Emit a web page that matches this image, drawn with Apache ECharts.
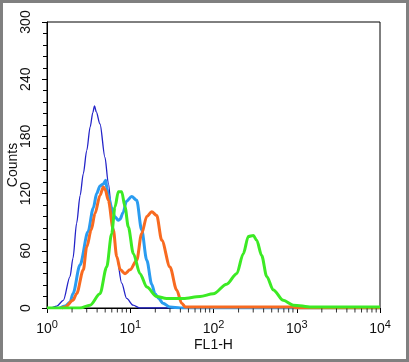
<!DOCTYPE html>
<html lang="en">
<head>
  <meta charset="UTF-8">
  <title>FL1-H histogram</title>
  <script src="https://cdn.jsdelivr.net/npm/echarts@6/dist/echarts.min.js"></script>
  <style>
    html, body { margin: 0; padding: 0; background: #fff; }
    #chart { width: 409px; height: 362px; }
  </style>
</head>
<body>
  <div id="chart"></div>
<script>
  // histogram curves: [FL1-H, counts]
  var controlCurve = [
    [1.0, 0], [1.09, 0], [1.31, 2], [1.57, 8], [1.89, 33], [2.05, 52], [2.27, 89], [2.5, 118],
    [2.73, 141], [3.0, 165], [3.3, 190], [3.55, 205], [3.72, 212], [3.9, 206], [4.33, 193],
    [4.97, 158], [5.45, 131], [6.15, 89], [6.88, 54], [7.89, 26], [9.06, 10], [10.8, 3],
    [13.1, 0], [10000, 0]
  ]
  var blueCurve = [
    [1.43, 0], [1.65, 2], [1.89, 6], [2.05, 15], [2.49, 45], [3.11, 80], [3.6, 105], [3.95, 120],
    [4.33, 128], [4.75, 130], [5.07, 134], [5.26, 125], [5.45, 118], [6.0, 105], [6.5, 96],
    [7.19, 92], [7.53, 93], [8.2, 100], [9.0, 112], [10.4, 117], [11.95, 113], [13.7, 82],
    [15.8, 50], [18.1, 25], [19.8, 15], [22, 10], [24.7, 5], [30, 1], [40, 0], [10000, 0]
  ]
  var orangeCurve = [
    [1.5, 0], [1.65, 1], [2.05, 8], [2.27, 15], [2.73, 40], [3.0, 64], [3.4, 82], [3.77, 99],
    [4.33, 118], [4.75, 127], [5.0, 124], [5.45, 113], [6.26, 82], [6.88, 54], [7.6, 40],
    [8.65, 36], [9.93, 40], [11.95, 50], [13.7, 78], [15.8, 96], [18.1, 101], [20.8, 97],
    [23.9, 71], [30, 43], [36.1, 19], [41.5, 5], [46, 1], [900, 1], [1000, 0], [10000, 0]
  ]
  var greenCurve = [
    [1.0, 0], [2.49, 0], [3.29, 3], [4.33, 15], [5.21, 43], [5.98, 78], [6.56, 106], [7.19, 122],
    [7.89, 122], [8.65, 106], [9.48, 85], [10.9, 57], [13.1, 36], [15.8, 22], [20.8, 12],
    [27.4, 10], [43.4, 10], [68.9, 12], [99.5, 15], [144, 25], [190, 36], [228, 57], [262, 75],
    [301, 76], [330, 71], [379, 55], [436, 33], [523, 19], [689, 8], [909, 3], [1500, 1], [10000, 1]
  ]
  // log-spaced minor ticks on the x axis
  var xMinorTicks = [
    2, 3, 4, 5, 6, 7, 8, 9,
    20, 30, 40, 50, 60, 70, 80, 90,
    200, 300, 400, 500, 600, 700, 800, 900,
    2000, 3000, 4000, 5000, 6000, 7000, 8000, 9000
  ]
  var yTicks = [0, 60, 120, 180, 240, 300]

  var font = "'Liberation Sans', Arial, sans-serif"
  var chart = echarts.init(document.getElementById('chart'))

  function curve(data, color, width) {
    return {
      type: 'line',
      data: data,
      showSymbol: false,
      smooth: 0.3,
      smoothMonotone: 'x',
      lineStyle: { color: color, width: width },
      silent: true
    }
  }

  chart.setOption({
    animation: false,
    backgroundColor: '#fff',
    textStyle: { fontFamily: font },
    grid: {
      left: 47, right: 29, top: 22, bottom: 54,
      outerBoundsMode: 'none',
      containLabel: false,
      show: true, borderColor: '#000', borderWidth: 1
    },
    graphic: [{
      type: 'rect',
      shape: { x: 1.5, y: 1.5, width: 406, height: 359 },
      style: { fill: 'none', stroke: '#808080', lineWidth: 3 }
    }],
    xAxis: {
      type: 'log',
      logBase: 10,
      min: 1,
      max: 10000,
      name: 'FL1-H',
      nameLocation: 'middle',
      nameGap: 30,
      nameMoveOverlap: false,
      nameTextStyle: { fontSize: 14, color: '#111', fontFamily: font },
      axisLine: { lineStyle: { color: '#000', width: 1 } },
      axisTick: { inside: false, length: 5, lineStyle: { color: '#000' } },
      splitLine: { show: false },
      axisLabel: {
        margin: 11,
        color: '#111',
        fontFamily: font,
        fontSize: 14,
        formatter: function (v) {
          return '10{s|' + Math.round(Math.log10(v)) + '}'
        },
        rich: {
          s: { fontSize: 11, padding: [0, 0, 9, 0], fontFamily: font, color: '#111' }
        }
      }
    },
    yAxis: {
      type: 'value',
      min: yTicks[0],
      max: yTicks[yTicks.length - 1],
      interval: 60,
      name: 'Counts',
      nameLocation: 'middle',
      nameGap: 27,
      nameMoveOverlap: false,
      nameTextStyle: { fontSize: 14, color: '#111', fontFamily: font },
      axisLine: { show: true, lineStyle: { color: '#000', width: 1 } },
      axisTick: { show: true, inside: false, length: 5, lineStyle: { color: '#000' } },
      minorTick: { show: true, splitNumber: 5, length: 4, lineStyle: { color: '#000' } },
      splitLine: { show: false },
      axisLabel: { rotate: 90, margin: 14, color: '#111', fontSize: 14, fontFamily: font }
    },
    series: [
      curve(controlCurve, '#2323c8', 1.3),
      curve(blueCurve, '#2a9cf0', 3),
      curve(orangeCurve, '#f86a20', 3),
      curve(greenCurve, '#3cea24', 3),
      {
        type: 'scatter',
        data: xMinorTicks.map(function (v) { return [v, 0] }),
        symbol: 'rect',
        symbolSize: [1, 4],
        symbolOffset: [0, 2.5],
        itemStyle: { color: '#000' },
        clip: false,
        silent: true,
        z: 5
      }
    ]
  })
</script>
</body>
</html>
